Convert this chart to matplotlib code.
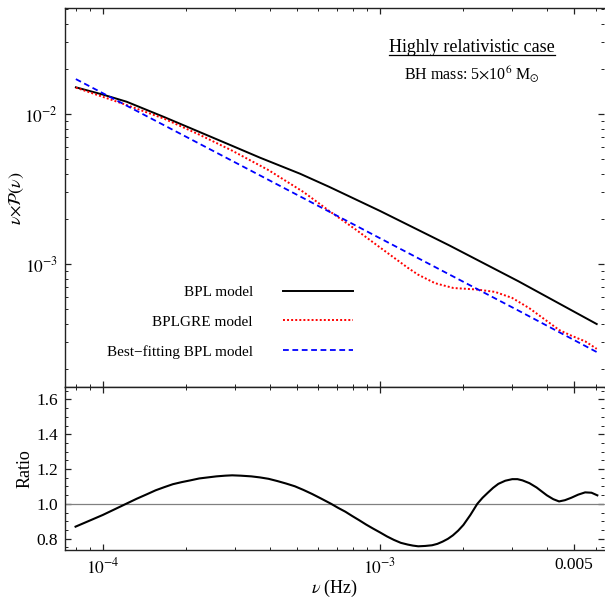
import numpy as np
import matplotlib
matplotlib.use('Agg')
import matplotlib.pyplot as plt
from matplotlib.ticker import FixedLocator, FixedFormatter, LogLocator, MultipleLocator, NullFormatter

plt.rcParams['font.family'] = ['Liberation Serif', 'DejaVu Serif']
plt.rcParams['mathtext.fontset'] = 'stix'

# ── data (frequency in Hz) ──
nu_bpl = [8.0e-5, 1.0e-4, 1.22e-4, 1.67e-4, 2.12e-4, 2.93e-4, 3.69e-4,
          5.15e-4, 6.56e-4, 1.0e-3, 1.78e-3, 3.16e-3, 6.05e-3]
p_bpl = [0.01507, 0.01349, 0.01208, 0.00953, 0.00791, 0.00614, 0.00512,
         0.00400, 0.00327, 0.00226, 0.00133, 0.000767, 0.000398]

nu_gre = [8.0e-5, 1.21e-4, 1.67e-4, 2.23e-4, 2.93e-4, 3.97e-4, 5.3e-4,
          6.67e-4, 8.17e-4, 1.0e-3, 1.26e-3, 1.37e-3, 1.58e-3, 1.84e-3,
          2.24e-3, 2.6e-3, 3.0e-3, 3.46e-3, 4.0e-3, 4.43e-3, 4.9e-3,
          5.5e-3, 6.05e-3]
p_gre = [0.01500, 0.01155, 0.00929, 0.00729, 0.00570, 0.00422, 0.00302,
         0.00221, 0.00170, 0.00129, 0.000944, 0.000851, 0.000745, 0.000692,
         0.000676, 0.000652, 0.000594, 0.000507, 0.000417, 0.000363, 0.000333,
         0.000305, 0.000272]

nu_fit = [8.0e-5, 3.16e-4, 1.0e-3, 3.16e-3, 6.05e-3]
p_fit = [0.0171, 0.00453, 0.001486, 0.000489, 0.000259]

# ratio panel: log10 of frequency and ratio value
lognu_ratio = [-4.098, -4.054, -4.0, -3.954, -3.916, -3.878, -3.841, -3.809,
               -3.778, -3.747, -3.715, -3.684, -3.652, -3.621, -3.590, -3.558,
               -3.533, -3.502, -3.464, -3.433, -3.402, -3.370, -3.339, -3.307,
               -3.276, -3.245, -3.213, -3.176, -3.151, -3.125, -3.100, -3.075,
               -3.050, -3.025, -3.0, -2.975, -2.950, -2.925, -2.900, -2.881,
               -2.862, -2.837, -2.812, -2.793, -2.774, -2.755, -2.737, -2.718,
               -2.699, -2.674, -2.649, -2.630, -2.611, -2.592, -2.573, -2.548,
               -2.523, -2.504, -2.486, -2.461, -2.435, -2.417, -2.398, -2.375,
               -2.354, -2.333, -2.310, -2.285, -2.260, -2.237, -2.216]
ratio = [0.869, 0.899, 0.936, 0.971, 1.0, 1.029, 1.055, 1.078,
         1.096, 1.113, 1.125, 1.135, 1.146, 1.152, 1.158, 1.162,
         1.164, 1.162, 1.158, 1.152, 1.144, 1.131, 1.117, 1.101,
         1.080, 1.057, 1.031, 1.0, 0.977, 0.955, 0.930, 0.906,
         0.881, 0.858, 0.836, 0.813, 0.793, 0.776, 0.766, 0.760,
         0.756, 0.758, 0.762, 0.770, 0.783, 0.799, 0.819, 0.846,
         0.879, 0.936, 1.0, 1.035, 1.064, 1.092, 1.115, 1.133,
         1.142, 1.142, 1.135, 1.119, 1.094, 1.072, 1.049, 1.027,
         1.014, 1.021, 1.035, 1.053, 1.066, 1.064, 1.049]

x_ticks = [1e-4, 1e-3, 5e-3]
x_ticklabels = [r'$10^{-4}$', r'$10^{-3}$', '0.005']
legend_labels = ['BPL model', 'BPLGRE model', 'Best\u2212fitting BPL model']

XLIM = (7.31e-5, 6.45e-3)
spine_col = '#222222'

fig = plt.figure(figsize=(6.05, 5.99), dpi=100)
ax1 = fig.add_axes([0.10744, 0.35342, 0.8916, 0.63272])
ax2 = fig.add_axes([0.10744, 0.08130, 0.8916, 0.27212])

# ── top panel ──
l1, = ax1.plot(nu_bpl, p_bpl, '-', color='black', lw=1.4)
l2, = ax1.plot(nu_gre, p_gre, color='#ff0000', lw=1.4, linestyle=(0, (1, 1.1)))
l3, = ax1.plot(nu_fit, p_fit, color='#0000ff', lw=1.3, linestyle=(0, (3.2, 2)))
ax1.set_xscale('log')
ax1.set_yscale('log')
ax1.set_xlim(*XLIM)
ax1.set_ylim(1.507e-4, 0.0507)
ax1.xaxis.set_major_locator(FixedLocator(x_ticks))
ax1.xaxis.set_minor_locator(LogLocator(subs=np.arange(2, 10)))
ax1.xaxis.set_major_formatter(NullFormatter())
ax1.xaxis.set_minor_formatter(NullFormatter())
ax1.yaxis.set_major_locator(FixedLocator([1e-3, 1e-2]))
ax1.yaxis.set_major_formatter(FixedFormatter([r'$10^{-3}$', r'$10^{-2}$']))
ax1.yaxis.set_minor_locator(LogLocator(subs=np.arange(2, 10)))
ax1.yaxis.set_minor_formatter(NullFormatter())
ax1.set_ylabel(r'$\nu{\times}\mathcal{P}(\nu)$', fontsize=13)
ax1.yaxis.set_label_coords(-0.072, 0.5)

leg = ax1.legend([l1, l2, l3], legend_labels, loc='center right',
                 bbox_to_anchor=(0.534, 0.1725), frameon=False, markerfirst=False,
                 fontsize=11, handlelength=4.6, handletextpad=1.95,
                 labelspacing=1.05, borderpad=0, borderaxespad=0)

title = ax1.text(0.754, 0.885, 'Highly relativistic case', transform=ax1.transAxes,
                 ha='center', va='baseline', fontsize=13)
ax1.text(0.754, 0.813, r'BH mass: 5$\times$10$^{6}$ M$_{\odot}$', transform=ax1.transAxes,
         ha='center', va='baseline', fontsize=11.5)
fig.canvas.draw()
bb = title.get_window_extent().transformed(ax1.transAxes.inverted())
ax1.plot([bb.x0, bb.x1], [bb.y0 + 0.002] * 2, transform=ax1.transAxes,
         color='black', lw=0.9)

# ── ratio panel ──
ax2.axhline(1.0, color='#808080', lw=0.9)
ax2.plot(np.power(10.0, lognu_ratio), ratio, '-', color='black', lw=1.5)
ax2.set_xscale('log')
ax2.set_xlim(*XLIM)
ax2.set_ylim(0.733, 1.67)
ax2.xaxis.set_major_locator(FixedLocator(x_ticks))
ax2.xaxis.set_major_formatter(FixedFormatter(x_ticklabels))
ax2.xaxis.set_minor_locator(LogLocator(subs=np.arange(2, 10)))
ax2.xaxis.set_minor_formatter(NullFormatter())
ax2.yaxis.set_major_locator(FixedLocator([0.8, 1.0, 1.2, 1.4, 1.6]))
ax2.yaxis.set_major_formatter(FixedFormatter(['0.8', '1.0', '1.2', '1.4', '1.6']))
ax2.yaxis.set_minor_locator(MultipleLocator(0.05))
ax2.set_ylabel('Ratio', fontsize=13)
ax2.yaxis.set_label_coords(-0.058, 0.5)
ax2.set_xlabel(r'$\nu$ (Hz)', fontsize=13)
ax2.xaxis.set_label_coords(0.5, -0.17)

for ax in (ax1, ax2):
    for s in ax.spines.values():
        s.set_color(spine_col)
        s.set_linewidth(1.0)
    # right frame edge is cut off in the reference, only its ticks show
    ax.spines['right'].set_visible(False)
    ax.tick_params(which='both', direction='in', top=True, right=True,
                   colors=spine_col, labelcolor='black', labelsize=12.5)
    ax.tick_params(which='major', length=4.5, width=0.9, pad=5)
    ax.tick_params(which='minor', length=2.5, width=0.7)

fig.savefig('out.png', dpi=100)
